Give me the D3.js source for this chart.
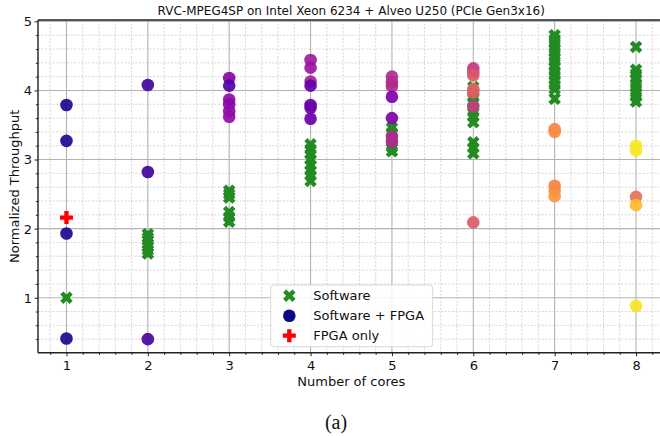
<!DOCTYPE html>
<html>
<head>
<meta charset="utf-8">
<script src="https://cdn.jsdelivr.net/npm/d3@7"></script>
<style>
  html, body { margin: 0; padding: 0; background: #fff; }
  svg { display: block; font-family: "DejaVu Sans", sans-serif; }
</style>
</head>
<body>
<svg id="chart" width="660" height="436"></svg>
<script>
// ---------------- data ----------------
const titleText = "RVC-MPEG4SP on Intel Xeon 6234 + Alveo U250 (PCIe Gen3x16)";
const xLabel = "Number of cores";
const yLabel = "Normalized Throughput";
const caption = "(a)";
const cores = [1, 2, 3, 4, 5, 6, 7, 8];
const xTicks = [1, 2, 3, 4, 5, 6, 7, 8];
const yTicks = [1, 2, 3, 4, 5];
const seriesNames = ["Software", "Software + FPGA", "FPGA only"];

// Software-only throughput per core count
const softwareValues = [
  [1.00],
  [1.92, 1.87, 1.83, 1.78, 1.74, 1.69, 1.64],
  [2.55, 2.50, 2.45, 2.24, 2.17, 2.10],
  [3.22, 3.15, 3.08, 3.00, 2.92, 2.84, 2.77, 2.69],
  [3.46, 3.39, 3.32, 3.25, 3.18, 3.12],
  [4.05, 3.97, 3.90, 3.83, 3.76, 3.69, 3.62, 3.54, 3.25, 3.17, 3.09],
  [4.80, 4.74, 4.68, 4.61, 4.55, 4.48, 4.42, 4.35, 4.28, 4.22, 4.15, 4.08, 4.02, 3.88],
  [4.63, 4.30, 4.24, 4.17, 4.10, 4.04, 3.97, 3.91, 3.84]
];

// Software + FPGA throughput per core count
const hybridValues = [
  [3.79, 3.27, 1.93, 0.41],
  [4.08, 2.82, 0.40],
  [4.18, 3.87, 3.80, 3.70, 3.62, 4.07],
  [4.44, 4.33, 4.13, 4.07, 3.79, 3.75, 3.59],
  [4.20, 4.12, 4.06, 3.33, 3.26, 3.91, 3.60],
  [4.32, 4.27, 4.22, 4.02, 3.97, 3.77, 2.09],
  [3.44, 3.40, 2.62, 2.55, 2.47],
  [3.20, 3.13, 2.46, 2.34, 0.88]
];
// colormap position (plasma) of each Software + FPGA point
const hybridShade = [
  [0.03, 0.03, 0.03, 0.03],
  [0.10, 0.10, 0.12],
  [0.28, 0.30, 0.28, 0.30, 0.30, 0.15],
  [0.35, 0.33, 0.37, 0.18, 0.20, 0.20, 0.20],
  [0.40, 0.40, 0.40, 0.40, 0.40, 0.25, 0.25],
  [0.45, 0.50, 0.56, 0.60, 0.58, 0.47, 0.57],
  [0.71, 0.73, 0.70, 0.72, 0.75],
  [0.96, 0.96, 0.64, 0.85, 0.95]
];

// FPGA only
const fpgaOnlyCores = [1];
const fpgaOnlyValues = [2.16];

// ---------------- layout ----------------
const svg = d3.select("#chart");
const L = 38, R = 664.5, T = 20, B = 352.7;

const x = d3.scaleLinear().domain([0.65, 8.35]).range([L, R]);
const y = d3.scaleLinear().domain([0.204, 5.02]).range([B, T]);

const green = "#228b22";
const red = "#ff0000";

// marker paths (matplotlib-like filled X and filled plus)
function polyPath(pts, s) {
  return "M" + pts.map(p => (p[0] * s).toFixed(2) + "," + (p[1] * s).toFixed(2)).join("L") + "Z";
}
const xPts = [[-1,-2],[0,-1],[1,-2],[2,-1],[1,0],[2,1],[1,2],[0,1],[-1,2],[-2,1],[-1,0],[-2,-1]].map(p => [p[0]/4, p[1]/4]);
const plusPts = [[-1,-3],[-1,-1],[-3,-1],[-3,1],[-1,1],[-1,3],[1,3],[1,1],[3,1],[3,-1],[1,-1],[1,-3]].map(p => [p[0]/6, p[1]/6]);
const xMarker = polyPath(xPts, 12.5);
const plusMarker = polyPath(plusPts, 13);

// ---------------- grid ----------------
const minorX = d3.range(0.8, 8.36, 0.2).filter(v => Math.abs(v - Math.round(v)) > 1e-6);
const minorY = d3.range(0.4, 5.02, 0.2).filter(v => Math.abs(v - Math.round(v)) > 1e-6);

const grid = svg.append("g");
grid.selectAll(".mgx").data(minorX).join("line")
  .attr("x1", d => x(d)).attr("x2", d => x(d)).attr("y1", T).attr("y2", B)
  .attr("stroke", "#cccccc").attr("stroke-width", 0.8).attr("stroke-dasharray", "2,1.6");
grid.selectAll(".mgy").data(minorY).join("line")
  .attr("y1", d => y(d)).attr("y2", d => y(d)).attr("x1", L).attr("x2", R)
  .attr("stroke", "#cccccc").attr("stroke-width", 0.8).attr("stroke-dasharray", "2,1.6");
grid.selectAll(".Mgx").data(xTicks).join("line")
  .attr("x1", d => x(d)).attr("x2", d => x(d)).attr("y1", T).attr("y2", B)
  .attr("stroke", "#b3b3b3").attr("stroke-width", 1.1);
grid.selectAll(".Mgy").data(yTicks).join("line")
  .attr("y1", d => y(d)).attr("y2", d => y(d)).attr("x1", L).attr("x2", R)
  .attr("stroke", "#b3b3b3").attr("stroke-width", 1.1);

// ---------------- axes ----------------
const xAxis = svg.append("g").attr("transform", `translate(0,${B})`)
  .call(d3.axisBottom(x).tickValues(xTicks).tickFormat(d3.format("d")).tickSize(3.5).tickSizeOuter(0));
const xMinorAxis = svg.append("g").attr("transform", `translate(0,${B})`)
  .call(d3.axisBottom(x).tickValues(minorX).tickFormat("").tickSize(2.2).tickSizeOuter(0));
const yAxis = svg.append("g").attr("transform", `translate(${L},0)`)
  .call(d3.axisLeft(y).tickValues(yTicks).tickFormat(d3.format("d")).tickSize(3.5).tickSizeOuter(0));
const yMinorAxis = svg.append("g").attr("transform", `translate(${L},0)`)
  .call(d3.axisLeft(y).tickValues(minorY).tickFormat("").tickSize(2.2).tickSizeOuter(0));

[xAxis, xMinorAxis, yAxis, yMinorAxis].forEach(g => {
  g.select(".domain").remove();
  g.selectAll(".tick line").attr("stroke", "#222").attr("stroke-width", 1);
  g.selectAll("text").attr("font-family", "DejaVu Sans").attr("font-size", 13).attr("fill", "#111");
});
xAxis.selectAll("text").attr("dy", null).attr("y", 17.5);
yAxis.selectAll("text").attr("x", -6).attr("dy", "0.34em");

// spines
svg.append("line").attr("x1", L).attr("x2", L).attr("y1", T).attr("y2", B).attr("stroke", "#222").attr("stroke-width", 1.4);
svg.append("line").attr("x1", L).attr("x2", R).attr("y1", B).attr("y2", B).attr("stroke", "#222").attr("stroke-width", 1.4);
svg.append("line").attr("x1", L).attr("x2", R).attr("y1", T).attr("y2", T).attr("stroke", "#222").attr("stroke-width", 1.4);
svg.append("line").attr("x1", R).attr("x2", R).attr("y1", T).attr("y2", B).attr("stroke", "#222").attr("stroke-width", 1.4);

// ---------------- points ----------------
const swPts = [];
softwareValues.forEach((vals, i) => vals.forEach(v => swPts.push({ c: cores[i], v })));
const hyPts = [];
hybridValues.forEach((vals, i) => vals.forEach((v, j) => hyPts.push({ c: cores[i], v, t: hybridShade[i][j] })));
const fpPts = fpgaOnlyCores.map((c, i) => ({ c, v: fpgaOnlyValues[i] }));

svg.append("g").selectAll("path").data(swPts).join("path")
  .attr("d", xMarker)
  .attr("transform", d => `translate(${x(d.c)},${y(d.v)})`)
  .attr("fill", green);

svg.append("g").selectAll("circle").data(hyPts).join("circle")
  .attr("cx", d => x(d.c)).attr("cy", d => y(d.v)).attr("r", 6.3)
  .attr("fill", d => d3.interpolatePlasma(d.t))
  .attr("fill-opacity", 0.92);

svg.append("g").selectAll("path").data(fpPts).join("path")
  .attr("d", plusMarker)
  .attr("transform", d => `translate(${x(d.c)},${y(d.v)})`)
  .attr("fill", red);

// ---------------- legend ----------------
const lg = svg.append("g");
lg.append("rect").attr("x", 270.7).attr("y", 285).attr("width", 162).attr("height", 61.7)
  .attr("rx", 3).attr("fill", "#fff").attr("fill-opacity", 0.85)
  .attr("stroke", "#d8d8d8").attr("stroke-width", 1);
const legendRows = [295.7, 315.7, 335.7];
lg.append("path").attr("d", xMarker).attr("transform", `translate(289.3,${legendRows[0]})`).attr("fill", green);
lg.append("circle").attr("cx", 289.3).attr("cy", legendRows[1]).attr("r", 6.3).attr("fill", d3.interpolatePlasma(0));
lg.append("path").attr("d", plusMarker).attr("transform", `translate(289.3,${legendRows[2]})`).attr("fill", red);
lg.selectAll("text").data(seriesNames).join("text")
  .attr("x", 313.3).attr("y", (d, i) => legendRows[i]).attr("dy", "0.36em")
  .attr("font-size", 13).attr("fill", "#111").text(d => d);

// ---------------- titles ----------------
svg.append("text").attr("x", (L + R) / 2).attr("y", 15).attr("text-anchor", "middle")
  .attr("font-size", 12).attr("fill", "#111").text(titleText);
svg.append("text").attr("x", (L + R) / 2).attr("y", 386).attr("text-anchor", "middle")
  .attr("font-size", 13).attr("fill", "#111").text(xLabel);
svg.append("text").attr("transform", `translate(18.5,${(T + B) / 2}) rotate(-90)`).attr("text-anchor", "middle")
  .attr("font-size", 13).attr("fill", "#111").text(yLabel);
svg.append("text").attr("x", 336).attr("y", 429).attr("text-anchor", "middle")
  .attr("font-family", "Liberation Serif, Times New Roman, serif").attr("font-size", 20).attr("fill", "#111").text(caption);
</script>
</body>
</html>
